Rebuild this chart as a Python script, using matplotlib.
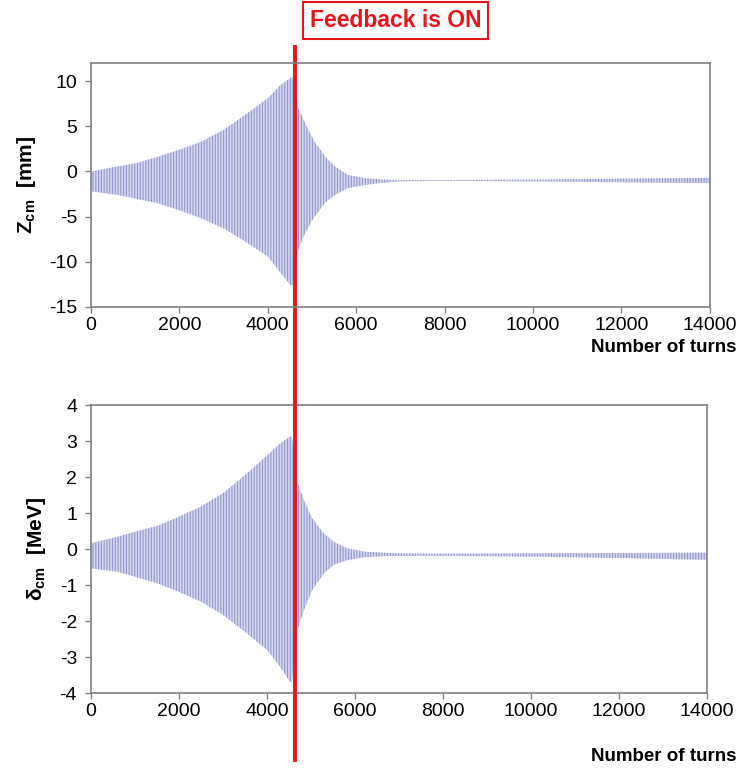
import numpy as np
import matplotlib.pyplot as plt

plt.rcParams['font.family'] = ['Liberation Sans', 'DejaVu Sans']
plt.rcParams['mathtext.fontset'] = 'custom'
plt.rcParams['mathtext.rm'] = 'Liberation Sans'
plt.rcParams['mathtext.bf'] = 'Liberation Sans:bold'
plt.rcParams['axes.unicode_minus'] = False
plt.rcParams['hatch.linewidth'] = 0.8

# envelope of the oscillation (turns, max, min)
turns = [0, 600, 1000, 1500, 2000, 2500, 3000, 3500, 4000, 4300, 4520, 4570,
         4690, 4840, 5030, 5290, 5520, 5820, 6200, 6600, 7000, 8000, 10000, 12000, 14000]

z_upper = [0.0, 0.55, 0.9, 1.6, 2.4, 3.3, 4.6, 6.3, 8.1, 9.6, 10.4, 10.4,
           7.0, 5.4, 3.5, 1.7, 0.55, -0.4, -0.75, -0.9, -0.95, -0.95, -0.9, -0.8, -0.7]
z_lower = [-2.2, -2.6, -3.0, -3.5, -4.3, -5.2, -6.3, -7.8, -9.4, -11.3, -12.6, -12.6,
           -8.7, -6.9, -5.2, -3.5, -2.6, -1.85, -1.5, -1.25, -1.1, -1.05, -1.1, -1.2, -1.3]

d_upper = [0.16, 0.34, 0.48, 0.64, 0.9, 1.18, 1.55, 2.05, 2.6, 2.93, 3.12, 3.12,
           1.87, 1.36, 0.85, 0.44, 0.2, 0.02, -0.07, -0.1, -0.12, -0.13, -0.12, -0.11, -0.1]
d_lower = [-0.54, -0.63, -0.77, -0.95, -1.19, -1.46, -1.83, -2.3, -2.8, -3.27, -3.69, -3.69,
           -2.25, -1.7, -1.14, -0.68, -0.44, -0.31, -0.23, -0.2, -0.19, -0.19, -0.21, -0.25, -0.3]

feedback_turn = 4620

fig = plt.figure(figsize=(7.41, 7.69), dpi=100)
ax1 = fig.add_axes([0.1228, 0.6008, 0.835, 0.3173])
ax2 = fig.add_axes([0.1228, 0.0988, 0.831, 0.3745])

fill_col = '#d6d8ef'
line_col = '#9297cc'
grey = '#808080'

for ax, up, lo in [(ax1, z_upper, z_lower), (ax2, d_upper, d_lower)]:
    ax.fill_between(turns, lo, up, facecolor=fill_col, edgecolor=line_col,
                    hatch='||||||', linewidth=0)
    ax.set_xlim(0, 14000)
    ax.set_xticks(np.arange(0, 14001, 2000))
    for s in ax.spines.values():
        s.set_color(grey)
        s.set_linewidth(1.2)
    ax.tick_params(colors=grey, labelcolor='black', labelsize=14,
                   length=4, width=1, direction='out')
    ax.tick_params(axis='y', pad=6)

ax1.set_ylim(-15, 12)
ax1.set_yticks(np.arange(-15, 11, 5))
ax2.set_ylim(-4, 4)
ax2.set_yticks(np.arange(-4, 5, 1))

ax1.set_ylabel(r'Z$_{\mathbf{cm}}$  [mm]', fontsize=15, fontweight='bold', labelpad=8)
ax2.set_ylabel(r'δ$_{\mathbf{cm}}$  [MeV]', fontsize=15, fontweight='bold', labelpad=8)

ax1.text(1.044, -0.164, 'Number of turns', transform=ax1.transAxes,
         ha='right', va='center', fontsize=13.5, fontweight='bold')
ax2.text(1.049, -0.222, 'Number of turns', transform=ax2.transAxes,
         ha='right', va='center', fontsize=13.5, fontweight='bold')

# red marker where the feedback starts, crossing both panels
ax1.set_zorder(3)
ax1.patch.set_alpha(0)
ax1.axvline(feedback_turn, ymin=-1.857, ymax=1.066, color='#e8141c',
            linewidth=2.8, clip_on=False)

fig.text(0.534, 0.973, 'Feedback is ON', ha='center', va='center',
         fontsize=16.5, fontweight='bold', color='#e8141c',
         bbox=dict(boxstyle='square,pad=0.3', facecolor='white',
                   edgecolor='#e8141c', linewidth=1.5))

fig.savefig('out.png', dpi=100)
